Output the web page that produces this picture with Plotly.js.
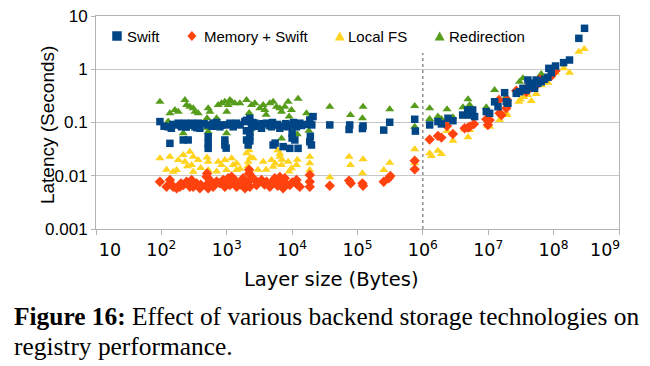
<!DOCTYPE html>
<html>
<head>
<meta charset="utf-8">
<script src="https://cdn.plot.ly/plotly-3.0.1.min.js"></script>
<style>
html,body{margin:0;padding:0;background:#fff;}
#chart{width:650px;height:366px;}
</style>
</head>
<body>
<div id="chart"></div>
<script>
// ---- data: layer size (bytes) vs latency (seconds) ----
var seriesNames = ["Swift", "Memory + Swift", "Local FS", "Redirection"];

var swiftX = [95,110,127,135,142,150,161,181,200,204,216,229,240,257,257,290,300,326,350,366,388,450,
  520,520,520,520,600,620,700,739,785,850,935,935,980,993,1117,1254,1413,1600,1892,2000,2000,2009,2125,
  2254,2254,2254,2254,2393,2500,2692,3000,3020,3404,3500,4064,4500,4840,5000,5120,5500,5770,6000,6485,
  7000,7280,8000,8685,9225,9500,10000,10000,10500,11000,11670,12340,13100,14000,16000,18620,18620,19770,
  20900,19000,20000,
  37670,74300,76000,119000,121600,252000,311000,750000,768000,
  1.27e6,1.70e6,1.92e6,2.42e6,2.88e6,4.06e6,4.84e6,5.19e6,5.77e6,6.19e6,9.33e6,1.05e7,1.25e7,1.41e7,
  1.78e7,1.89e7,2.0e7,2.68e7,3.01e7,3.39e7,3.82e7,4.04e7,4.29e7,4.5e7,4.81e7,5.11e7,5.42e7,5.74e7,
  6.47e7,7.26e7,8.16e7,8.45e7,9.2e7,1.07e8,1.42e8,1.75e8,2.43e8,2.97e8];
var swiftY = [0.104,0.085,0.083,0.0406,0.078,0.092,0.090,0.097,0.088,0.083,0.047,0.097,0.082,0.047,0.090,0.097,0.092,0.083,0.080,0.097,0.078,0.095,
  0.090,0.054,0.0406,0.0327,0.085,0.097,0.100,0.090,0.083,0.090,0.047,0.0378,0.033,0.090,0.097,0.083,0.097,0.090,0.104,0.110,0.070,0.047,0.0378,
  0.120,0.065,0.055,0.045,0.083,0.100,0.097,0.085,0.090,0.078,0.095,0.097,0.088,0.083,0.100,0.0378,0.041,0.090,0.092,0.078,
  0.085,0.0352,0.095,0.083,0.0327,0.090,0.063,0.051,0.100,0.047,0.083,0.0327,0.097,0.088,0.092,0.111,0.0435,0.0378,
  0.129,0.055,0.090,
  0.090,0.074,0.090,0.077,0.086,0.072,0.101,0.115,0.069,
  0.090,0.104,0.094,0.120,0.108,0.138,0.172,0.138,0.172,0.129,0.160,0.149,0.245,0.198,
  0.363,0.245,0.230,0.353,0.378,0.439,0.407,0.628,0.458,0.55,0.506,0.439,0.628,0.544,
  0.583,0.647,0.706,1.04,0.86,1.15,1.33,1.49,3.81,5.87];

var memX = [95,120,135,140,152,171,192,200,216,243,260,273,290,307,346,388,400,492,500,500,520,520,552,620,
  700,785,881,935,1000,1050,1117,1186,1254,1330,1413,1600,1782,1900,2009,2100,2200,2200,2254,2300,2535,
  2858,3000,3404,3800,4064,4560,5000,5435,6000,6485,6500,7280,7730,8000,9225,10000,11670,12000,13100,
  18620,18620,18620,
  37670,74300,78900,119000,121600,252000,300000,318000,750000,750000,
  1.27e6,1.70e6,1.92e6,2.34e6,2.88e6,4.35e6,4.90e6,5.19e6,6.04e6,9.33e6,9.88e6,1.05e7,1.46e7,1.49e7,
  1.6e7,1.89e7,1.93e7,2.68e7,3.82e7,4.04e7,5.11e7,6.10e7,9.20e7,1.07e8];
var memY = [0.0077,0.0062,0.0083,0.0070,0.0062,0.0058,0.0062,0.0072,0.0067,0.0077,0.0070,0.0062,0.0083,0.0062,0.0072,0.0058,0.0068,0.0096,0.011,0.0065,0.0072,0.0058,0.0083,0.0062,
  0.0078,0.0072,0.0083,0.0062,0.0072,0.0090,0.0067,0.0096,0.0077,0.0083,0.0062,0.0068,0.0090,0.0058,0.0072,0.0065,0.013,0.011,0.0062,0.0085,0.0090,
  0.0067,0.0075,0.0083,0.0068,0.0077,0.0062,0.0078,0.0090,0.0065,0.0072,0.0095,0.0058,0.0090,0.0072,0.0067,0.0075,0.0083,0.0068,0.0062,
  0.0103,0.0077,0.0062,
  0.0065,0.0081,0.0072,0.0072,0.0065,0.0077,0.0090,0.0099,0.0192,0.0132,
  0.048,0.056,0.052,0.086,0.061,0.078,0.080,0.083,0.094,0.115,0.090,0.111,0.265,0.149,
  0.138,0.185,0.265,0.395,0.378,0.47,0.458,0.647,0.746,0.94];

var fsX = [95,120,135,152,171,181,216,229,250,273,290,307,307,366,400,500,520,520,700,739,833,935,993,
  1186,1254,1413,1413,1600,2009,2100,2125,2200,2300,2535,3000,3606,4000,4840,5120,5500,6000,6485,6500,
  6885,7000,8685,9000,9775,11670,12000,18620,18620,18620,
  37670,74300,78000,119000,121600,252000,311000,750000,750000,
  1.27e6,1.35e6,1.70e6,1.92e6,2.34e6,2.88e6,4.35e6,4.90e6,5.19e6,9.88e6,1.05e7,1.49e7,1.89e7,1.93e7,
  2.94e7,3.1e7,3.5e7,4.0e7,4.55e7,5.42e7,6.5e7,7.26e7,8.16e7,1.07e8,1.43e8,1.75e8,2.43e8,2.94e8];
var fsY = [0.0213,0.013,0.0228,0.0119,0.0128,0.0198,0.0245,0.0184,0.015,0.0283,0.0159,0.0228,0.0119,0.0198,0.014,0.022,0.0184,0.0128,0.012,0.0184,0.0159,0.0198,0.0128,
  0.0213,0.0159,0.0128,0.0171,0.0135,0.0264,0.015,0.0184,0.030,0.022,0.0213,0.013,0.0184,0.013,0.0198,0.0148,0.017,0.030,0.0228,0.026,
  0.0159,0.020,0.0184,0.012,0.0138,0.0159,0.020,0.0228,0.0171,0.0128,
  0.0094,0.0228,0.0159,0.0111,0.0204,0.0128,0.0176,0.0314,0.0171,
  0.0264,0.0235,0.0295,0.0256,0.069,0.0455,0.074,0.053,0.072,0.086,0.083,0.111,0.149,0.138,
  0.245,0.27,0.30,0.33,0.254,0.343,0.50,0.558,0.558,0.86,1.04,0.86,2.14,2.40];

var redirX = [95,127,135,161,181,216,229,243,273,307,307,326,366,500,500,520,520,552,700,739,833,935,993,
  1000,1050,1117,1186,1330,1585,2000,2009,2200,2200,2300,2393,2692,3206,3606,3828,4000,4560,5120,5770,
  6485,6885,6885,7730,8685,9000,9775,11000,12000,12340,16600,18000,18620,19000,
  37670,78000,119000,121600,311000,750000,750000,
  1.27e6,1.27e6,1.70e6,1.92e6,2.34e6,2.88e6,4.10e6,4.90e6,5.19e6,9.33e6,1.25e7,1.89e7,3.01e7,3.39e7,6.47e7];
var redirY = [0.245,0.104,0.149,0.172,0.160,0.063,0.265,0.213,0.198,0.185,0.083,0.160,0.149,0.12,0.08,0.185,0.067,0.160,0.12,0.213,0.230,0.245,0.063,
  0.16,0.213,0.265,0.245,0.230,0.230,0.10,0.265,0.15,0.12,0.075,0.213,0.230,0.185,0.213,0.172,0.14,0.230,0.245,0.198,
  0.185,0.160,0.050,0.198,0.245,0.13,0.172,0.08,0.06,0.28,0.149,0.07,0.097,0.13,
  0.198,0.138,0.120,0.198,0.177,0.204,0.083,
  0.185,0.116,0.129,0.116,0.177,0.125,0.193,0.273,0.213,0.193,0.407,0.306,0.583,0.676,0.815];

var xTickVals = [10, 1e2, 1e3, 1e4, 1e5, 1e6, 1e7, 1e8, 1e9];
var xTickText = ["\u00a0\u00a0\u00a0\u00a0\u00a010", "10<sup>2</sup>", "10<sup>3</sup>", "10<sup>4</sup>", "10<sup>5</sup>",
  "10<sup>6</sup>", "10<sup>7</sup>", "10<sup>8</sup>", "10<sup>9</sup>\u00a0\u00a0\u00a0\u00a0\u00a0"];
var yTickVals = [0.001, 0.01, 0.1, 1, 10];
var yTickText = ["0.001", "0.01", "0.1", "1", "10"];

var colors = ["#004586", "#ff420e", "#ffd320", "#579d1c"];

// ---- plot geometry helpers (pixel -> paper) ----
var W = 650, H = 366, L = 96, R = 619.5, T = 16, B = 229;
function px(x){ return (x - L) / (R - L); }
function py(y){ return (B - y) / (B - T); }

var traces = [
  {x: redirX, y: redirY, name: seriesNames[3], mode: "markers", type: "scatter",
   marker: {symbol: "triangle-up", size: 8, color: colors[3], line: {width: 0}}},
  {x: fsX, y: fsY, name: seriesNames[2], mode: "markers", type: "scatter",
   marker: {symbol: "triangle-up", size: 8, color: colors[2], line: {width: 0}}},
  {x: memX, y: memY, name: seriesNames[1], mode: "markers", type: "scatter",
   marker: {symbol: "diamond", size: 8, color: colors[1], line: {width: 0}}},
  {x: swiftX, y: swiftY, name: seriesNames[0], mode: "markers", type: "scatter",
   marker: {symbol: "square", size: 7.5, color: colors[0], line: {width: 0}}}
];

var legendY = py(36);
var shapes = [
  {type: "line", xref: "x", yref: "paper", x0: 1e6, x1: 1e6, y0: 0, y1: py(53),
   line: {color: "#555", width: 1, dash: "dot"}},
  {type: "rect", xref: "paper", yref: "paper", xsizemode: "pixel", ysizemode: "pixel",
   xanchor: px(117), yanchor: legendY, x0: -4.75, x1: 4.75, y0: -4.75, y1: 4.75,
   fillcolor: colors[0], line: {width: 0}},
  {type: "path", xref: "paper", yref: "paper", xsizemode: "pixel", ysizemode: "pixel",
   xanchor: px(192), yanchor: legendY, path: "M0,5 L4.5,0 L0,-5 L-4.5,0 Z",
   fillcolor: colors[1], line: {width: 0}},
  {type: "path", xref: "paper", yref: "paper", xsizemode: "pixel", ysizemode: "pixel",
   xanchor: px(340), yanchor: legendY, path: "M-5,-4.5 L5,-4.5 L0,4.5 Z",
   fillcolor: colors[2], line: {width: 0}},
  {type: "path", xref: "paper", yref: "paper", xsizemode: "pixel", ysizemode: "pixel",
   xanchor: px(440), yanchor: legendY, path: "M-5,-4.5 L5,-4.5 L0,4.5 Z",
   fillcolor: colors[3], line: {width: 0}}
];

var legFont = {family: "Liberation Sans, Arial, sans-serif", size: 15, color: "#000"};
function legText(x, t){
  return {xref: "paper", yref: "paper", x: px(x), y: legendY, xanchor: "left", yanchor: "middle",
          text: t, showarrow: false, font: legFont};
}
var annotations = [
  legText(125, seriesNames[0]),
  legText(202, seriesNames[1]),
  legText(346, seriesNames[2]),
  legText(447, seriesNames[3]),
  {xref: "paper", yref: "paper", x: px(47), y: py(125), textangle: -90, xanchor: "center", yanchor: "middle",
   text: "Latency (Seconds)", showarrow: false,
   font: {family: "Liberation Sans, Arial, sans-serif", size: 19, color: "#000"}},
  {xref: "paper", yref: "paper", x: px(332), y: py(279), xanchor: "center", yanchor: "middle",
   text: "Layer size (Bytes)", showarrow: false,
   font: {family: "DejaVu Sans, sans-serif", size: 19.5, color: "#000"}},
  {xref: "paper", yref: "paper", x: px(12), y: py(316), xanchor: "left", yanchor: "middle",
   text: "<b>Figure 16:</b> Effect of various backend storage technologies on", showarrow: false,
   font: {family: "Liberation Serif, Times New Roman, serif", size: 25.4, color: "#000"}},
  {xref: "paper", yref: "paper", x: px(12), y: py(346), xanchor: "left", yanchor: "middle",
   text: "registry performance.", showarrow: false,
   font: {family: "Liberation Serif, Times New Roman, serif", size: 25.4, color: "#000"}}
];

var layout = {
  width: W, height: H,
  margin: {l: L, r: W - R, t: T, b: H - B, pad: 0},
  paper_bgcolor: "#fff", plot_bgcolor: "#fff",
  showlegend: false,
  xaxis: {type: "log", range: [1, 9], tickmode: "array", tickvals: xTickVals, ticktext: xTickText,
          showgrid: false, zeroline: false, showline: true, mirror: true, linecolor: "#b3b3b3", linewidth: 1,
          ticks: "outside", ticklen: 5, tickcolor: "#b3b3b3",
          tickfont: {family: "DejaVu Sans, sans-serif", size: 17.5, color: "#000"}},
  yaxis: {type: "log", range: [-3, 1], tickmode: "array", tickvals: yTickVals, ticktext: yTickText,
          showgrid: true, gridcolor: "#c8c8c8", gridwidth: 1, zeroline: false,
          showline: true, mirror: true, linecolor: "#b3b3b3", linewidth: 1,
          ticks: "outside", ticklen: 4, tickcolor: "#b3b3b3",
          tickfont: {family: "Liberation Sans, Arial, sans-serif", size: 17, color: "#000"}},
  shapes: shapes,
  annotations: annotations
};

Plotly.newPlot("chart", traces, layout, {displayModeBar: false, staticPlot: true});
</script>
</body>
</html>
